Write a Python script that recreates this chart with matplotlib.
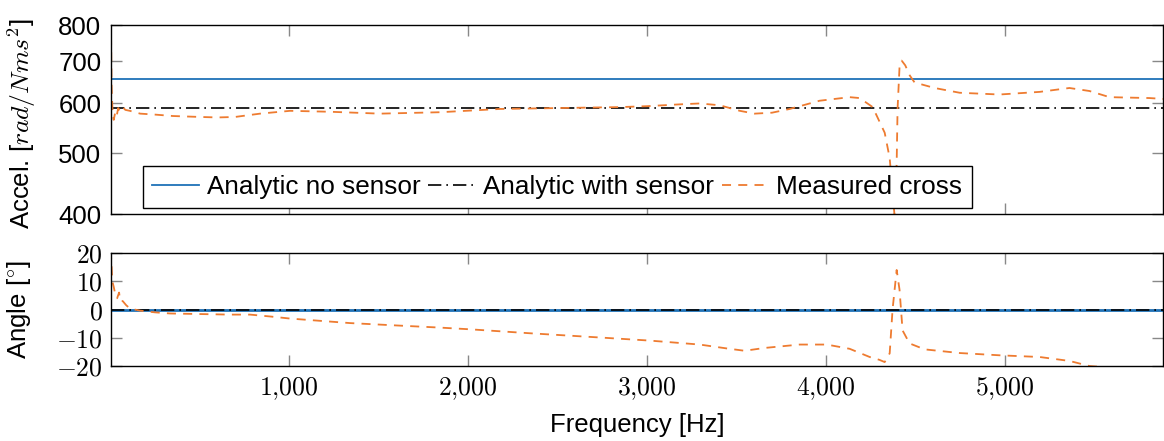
import numpy as np
import matplotlib.pyplot as plt

plt.rcParams['font.family'] = ['Liberation Sans', 'DejaVu Sans']
plt.rcParams['mathtext.fontset'] = 'cm'

# analytic levels
acc_no_sensor = 656
acc_with_sensor = 590

# measured cross, magnitude
f_mag = [0, 4, 8, 14, 20, 28, 36, 45, 55, 70, 85, 110, 168, 250, 350, 503, 600, 698, 838,
         1006, 1229, 1508, 1844, 2179, 2514, 2849, 3000, 3184, 3296, 3408, 3520, 3603, 3700,
         3799, 3966, 4134, 4190, 4263, 4330, 4358, 4385, 4397, 4402, 4413, 4425, 4445, 4470,
         4497, 4609, 4749, 4972, 5196, 5363, 5475, 5587, 5810, 5888]
acc_meas = [380, 820, 640, 575, 565, 580, 572, 590, 583, 592, 586, 584, 578, 576, 573, 571, 570, 571, 578,
            584, 582, 578, 581, 588, 590, 592, 594, 598, 600, 596, 584, 578, 580,
            588, 606, 614, 612, 592, 539, 491, 398, 482, 588, 686, 702, 690, 665,
            648, 635, 624, 620, 626, 635, 628, 614, 612, 610]

# measured cross, angle
f_ang = [0, 5, 12, 20, 30, 39, 50, 56, 70, 90, 112, 168, 250, 335, 500, 670, 782, 900, 1006,
         1341, 1620, 1844, 2011, 2346, 2737, 3017, 3296, 3450, 3547, 3659, 3855, 4006, 4134,
         4246, 4300, 4330, 4358, 4374, 4397, 4413, 4430, 4469, 4553, 4749, 4972, 5196, 5363,
         5475, 5888]
ang_meas = [21, 19, 10, 8, 5, 4, 6, 3, 3, 1.5, 0.3, -0.4, -1.0, -1.4, -1.6, -1.8, -1.8, -2.5, -3.2,
            -4.8, -5.7, -6.4, -7, -8.4, -9.9, -11, -12.4, -13.8, -14.6, -13.6, -12.4, -12.4, -13.9,
            -16.8, -17.8, -18.6, -15.5, 0, 14, 7, -7.4, -12, -14.1, -15.4, -16.2, -16.8, -18.2,
            -20, -22]

xticks = [1000, 2000, 3000, 4000, 5000]
xlabels = ['$1{,}000$', '$2{,}000$', '$3{,}000$', '$4{,}000$', '$5{,}000$']

blue = '#1f72b8'
orange = '#ee7b30'
fmin, fmax = 5, 5885

fig = plt.figure(figsize=(11.64, 4.41), dpi=100)
ax1 = fig.add_axes([0.0954, 0.5147, 0.9036, 0.4286])
ax2 = fig.add_axes([0.0954, 0.170, 0.9036, 0.2563])

# top: magnitude
ax1.plot([fmin, fmax], [acc_no_sensor] * 2, color=blue, lw=1.3, label='Analytic no sensor')
ax1.plot([fmin, fmax], [acc_with_sensor] * 2, color='black', lw=1.2, ls=(0, (8, 3, 1, 3)),
         label='Analytic with sensor')
ax1.plot(f_mag, acc_meas, color=orange, lw=1.3, ls=(0, (5, 4)), label='Measured cross')
ax1.set_yscale('log')
ax1.set_ylim(400, 800)
ax1.set_yticks([400, 500, 600, 700, 800])
ax1.set_yticklabels(['400', '500', '600', '700', '800'])
ax1.yaxis.set_minor_locator(plt.NullLocator())
ax1.set_xlim(fmin, fmax)
ax1.set_xticks(xticks)
ax1.set_xticklabels([])
ax1.set_ylabel('Accel. [$rad/Nms^2$]', fontsize=18.5)
ax1.yaxis.set_label_coords(-0.069, 0.48)
ax1.tick_params(axis='y', labelsize=18.5, pad=7)
leg = ax1.legend(ncol=3, loc='lower left', bbox_to_anchor=(0.03, 0.03), borderaxespad=0,
                 fontsize=18.8, fancybox=False, edgecolor='black', framealpha=1,
                 handlelength=1.8, handletextpad=0.3, columnspacing=0.3,
                 borderpad=0.35)
leg.get_frame().set_linewidth(1.0)

# bottom: angle
ax2.plot([fmin, fmax], [0, 0], color=blue, lw=2.0)
ax2.plot([fmin, fmax], [0, 0], color='black', lw=1.2, ls=(0, (8, 3, 1, 3)))
ax2.plot(f_ang, ang_meas, color=orange, lw=1.3, ls=(0, (5, 4)))
ax2.set_ylim(-20, 20)
ax2.set_yticks([-20, -10, 0, 10, 20])
ax2.set_yticklabels(['$-20$', '$-10$', '$0$', '$10$', '$20$'])
ax2.set_xlim(fmin, fmax)
ax2.set_xticks(xticks)
ax2.set_xticklabels(xlabels)
ax2.set_xlabel('Frequency [Hz]', fontsize=18.5, labelpad=8)
ax2.set_ylabel('Angle [$^{\\circ}$]', fontsize=18.5)
ax2.yaxis.set_label_coords(-0.074, 0.5)
ax2.tick_params(axis='y', labelsize=18.5, pad=6)
ax2.tick_params(axis='x', labelsize=18.5, pad=7)

for ax in (ax1, ax2):
    ax.tick_params(which='both', direction='in', top=True, right=True,
                   length=8, width=1, color='#888888')
    for s in ax.spines.values():
        s.set_linewidth(1.0)

fig.savefig('out.png', dpi=100)
